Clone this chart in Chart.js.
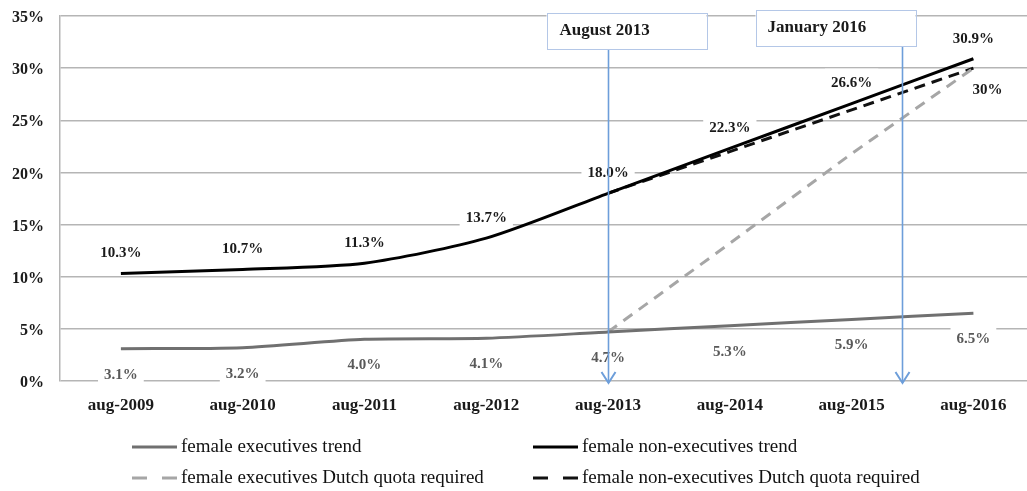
<!DOCTYPE html>
<html><head><meta charset="utf-8">
<script src="https://cdn.jsdelivr.net/npm/chart.js@4.4.1/dist/chart.umd.min.js"></script>
<style>html,body{margin:0;padding:0;background:#fff;overflow:hidden}#wrap{width:1027px;height:491px;position:relative}</style>
</head><body><div id="wrap"><canvas id="c" width="1027" height="491"></canvas></div>
<script>
const categories = ['aug-2009','aug-2010','aug-2011','aug-2012','aug-2013','aug-2014','aug-2015','aug-2016'];
const execTrend = [3.1, 3.2, 4.0, 4.1, 4.7, 5.3, 5.9, 6.5];
const nonExecTrend = [10.3, 10.7, 11.3, 13.7, 18.0, 22.3, 26.6, 30.9];
const execQuota = [null, null, null, null, 4.7, 13.2, 21.8, 30];
const nonExecQuota = [null, null, null, null, 18.0, 22.0, 26.0, 30];
const execLabels = execTrend.map(v => v.toFixed(1) + '%');
const nonExecLabels = nonExecTrend.map(v => v.toFixed(1) + '%');
const quotaLabels = [null, null, null, null, null, null, null, '30%'];
const yTicks = [0, 5, 10, 15, 20, 25, 30, 35];
const annotationNames = ['August 2013', 'January 2016'];
const annotationAt = [4, 6 + 5 / 12];
const seriesNames = ['female executives trend', 'female non-executives trend',
  'female executives Dutch quota required', 'female non-executives Dutch quota required'];

const SERIF = "'Liberation Serif', 'Times New Roman', serif";
Chart.defaults.font.family = SERIF;

const toPts = arr => arr.map((v, i) => ({x: i, y: v}));

const labelPlugin = {
  id: 'labels',
  beforeDatasetsDraw(chart) {
    const ctx = chart.ctx;
    ctx.save();
    ctx.font = 'bold 15px ' + SERIF;
    ctx.textAlign = 'center';
    ctx.textBaseline = 'middle';
    chart.data.datasets.forEach((ds, i) => {
      if (!ds.dl) return;
      const meta = chart.getDatasetMeta(i);
      meta.data.forEach((pt, j) => {
        const t = ds.dl.text[j];
        if (!t) return;
        const x = pt.x + ds.dl.dx, y = pt.y + ds.dl.dy;
        const w = ctx.measureText(t).width + 12;
        ctx.fillStyle = '#fff';
        ctx.fillRect(x - w / 2, y - 15, w, 26);
        ctx.fillStyle = ds.dl.color;
        ctx.fillText(t, x, y);
      });
    });
    ctx.restore();
  },
  afterDatasetsDraw(chart) {
    const ctx = chart.ctx, xs = chart.scales.x, area = chart.chartArea;
    ctx.save();
    const boxes = [
      {dx0: -62, dx1: 98, y0: 13, y1: 49, tx: 13},
      {dx0: -147, dx1: 13, y0: 10, y1: 46, tx: 12}
    ];
    annotationAt.forEach((a, k) => {
      const x = Math.round(xs.getPixelForValue(a)) + 0.5;
      const b = boxes[k];
      const tipY = area.bottom + 2;
      ctx.strokeStyle = '#6d9eda';
      ctx.lineWidth = 1.6;
      ctx.beginPath();
      ctx.moveTo(x, b.y1);
      ctx.lineTo(x, tipY);
      ctx.stroke();
      ctx.lineWidth = 2;
      ctx.beginPath();
      ctx.moveTo(x - 7, tipY - 11);
      ctx.lineTo(x, tipY);
      ctx.lineTo(x + 7, tipY - 11);
      ctx.stroke();
      ctx.fillStyle = '#fff';
      ctx.fillRect(x + b.dx0, b.y0, b.dx1 - b.dx0, b.y1 - b.y0);
      ctx.strokeStyle = '#b4c7e7';
      ctx.lineWidth = 1;
      ctx.strokeRect(Math.round(x + b.dx0) + 0.5, b.y0 + 0.5, b.dx1 - b.dx0, b.y1 - b.y0);
      ctx.fillStyle = '#1a1a1a';
      ctx.font = 'bold 17px ' + SERIF;
      ctx.textAlign = 'left';
      ctx.textBaseline = 'middle';
      ctx.fillText(annotationNames[k], x + b.dx0 + b.tx, (b.y0 + b.y1) / 2);
    });
    ctx.restore();
  },
  afterDraw(chart) {
    const ctx = chart.ctx;
    ctx.save();
    const pos = [[132, 447], [533, 447], [132, 478], [533, 478]];
    [0, 1, 2, 3].forEach(k => {
      const ds = chart.data.datasets[k];
      const [x, y] = pos[k];
      ctx.strokeStyle = ds.borderColor;
      ctx.lineWidth = 3;
      ctx.setLineDash(ds.borderDash && ds.borderDash.length ? [15, 15] : []);
      ctx.beginPath();
      ctx.moveTo(x, y);
      ctx.lineTo(x + 45, y);
      ctx.stroke();
      ctx.setLineDash([]);
      ctx.fillStyle = '#111';
      ctx.font = '19px ' + SERIF;
      ctx.textAlign = 'left';
      ctx.textBaseline = 'middle';
      ctx.fillText(ds.label, x + 49, y);
    });
    ctx.restore();
  }
};

new Chart(document.getElementById('c'), {
  type: 'line',
  data: {
    datasets: [
      {label: seriesNames[0], data: toPts(execTrend), borderColor: '#707070', borderWidth: 3, tension: 0.25,
        dl: {text: execLabels, color: '#595959', dx: 0, dy: 26}},
      {label: seriesNames[1], data: toPts(nonExecTrend), borderColor: '#000000', borderWidth: 3, tension: 0.25,
        dl: {text: nonExecLabels, color: '#1a1a1a', dx: 0, dy: -20}},
      {label: seriesNames[2], data: toPts(execQuota), borderColor: '#a6a6a6', borderWidth: 3, borderDash: [11, 8], tension: 0},
      {label: seriesNames[3], data: toPts(nonExecQuota), borderColor: '#111111', borderWidth: 3, borderDash: [11, 7], tension: 0,
        dl: {text: quotaLabels, color: '#1a1a1a', dx: 14, dy: 22}}
    ]
  },
  options: {
    responsive: false,
    animation: false,
    devicePixelRatio: 1,
    elements: {point: {radius: 0}},
    layout: {padding: {top: 16, bottom: 70, left: 0, right: 0}},
    plugins: {legend: {display: false}, tooltip: {enabled: false}},
    scales: {
      x: {
        type: 'linear', min: -0.5, max: 7.44,
        afterBuildTicks: s => { s.ticks = categories.map((c, i) => ({value: i})); },
        afterFit: s => { s.height = 40; s.paddingLeft = 0; s.paddingRight = 0; },
        grid: {display: false, drawTicks: false},
        border: {display: false},
        ticks: {padding: 14, color: '#1a1a1a', font: {size: 17, weight: 'bold'}, maxRotation: 0, autoSkip: false,
          callback: v => categories[v]}
      },
      y: {
        min: 0, max: 35,
        afterBuildTicks: s => { s.ticks = yTicks.map(v => ({value: v})); },
        afterFit: s => { s.width = 60; s.paddingTop = 0; s.paddingBottom = 0; },
        grid: {color: '#b5b5b5', lineWidth: 1.5, drawTicks: false},
        border: {display: true, color: '#b5b5b5', width: 1.5},
        ticks: {padding: 16, labelOffset: 2, color: '#1a1a1a', font: {size: 16, weight: 'bold'}, callback: v => v + '%'}
      }
    }
  },
  plugins: [labelPlugin]
});
</script></body></html>
